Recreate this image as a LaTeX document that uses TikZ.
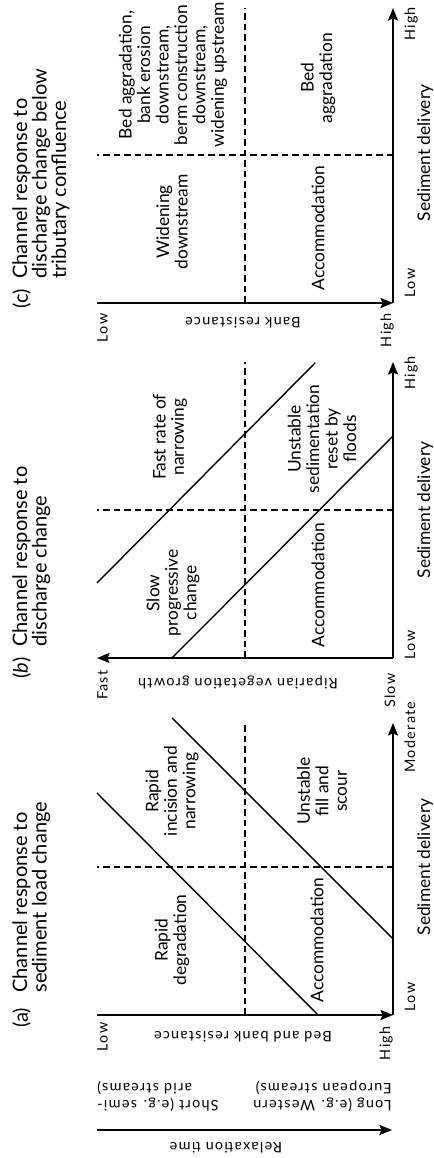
\documentclass[tikz,border=0pt]{standalone}
\usepackage{fontspec}
\setmainfont{Lato}
\newfontfamily\spacedfont[LetterSpace=9]{Lato}
\usetikzlibrary{arrows.meta}

\begin{document}
\begin{tikzpicture}[x=0.02cm, y=0.02cm, rotate=90, transform shape,
    every node/.style={inner sep=0pt},
    axis/.style={line width=1.1pt, -{Stealth[length=0.25cm, width=0.2cm, inset=0.04cm]}},
    bound/.style={line width=0.8pt},
    quadline/.style={line width=0.75pt, dash pattern=on 0.13cm off 0.08cm},
    region/.style={align=center, font=\fontsize{9.9}{10.5}\selectfont},
    heading/.style={align=left, anchor=north west, font=\fontsize{11.4}{11.1}\selectfont},
    endlabel/.style={font=\spacedfont\fontsize{8.2}{9.6}\selectfont},
    axislabel/.style={font=\fontsize{9.9}{10.5}\selectfont}
]
\path[use as bounding box, fill=white] (0,-433) rectangle (1158,0);
%% ============================================================
%% RELAXATION TIME: arrow on the far left
%% ============================================================
\coordinate (rt-top) at (28,-97);
\coordinate (rt-end) at (28,-392);
\draw[axis] (rt-top) -- (rt-end);
\node[endlabel, rotate=90] (rt-label) at (10,-226) {Relaxation time};
\node[endlabel, rotate=90, align=right, anchor=north east] (rt-short) at (46,-97) {Short (e.g. semi-\\arid streams)};
\node[endlabel, rotate=90, align=left, anchor=north west] (rt-long) at (46,-392) {Long (e.g. Western\\European streams)};
%% ============================================================
%% PANEL (a): sediment load change
%% ============================================================
\begin{scope}[shift={(143,-393)}]
\coordinate (a-o)   at (0,0);
\coordinate (a-top) at (0,296);
\coordinate (a-end) at (292,0);
\draw[axis] (a-top) -- (a-o);
\draw[axis] (a-o) -- (a-end);
\coordinate (a-ml) at (0,148);
\coordinate (a-mr) at (292,148);
\coordinate (a-mb) at (148,0);
\coordinate (a-mt) at (148,296);
\draw[quadline] (a-ml) -- (a-mr);
\draw[quadline] (a-mb) -- (a-mt);
\coordinate (a-d1s) at (1,76);
\coordinate (a-d1e) at (222,296);
\coordinate (a-d2s) at (77,1);
\coordinate (a-d2e) at (297,221);
\draw[bound] (a-d1s) -- (a-d1e);
\draw[bound] (a-d2s) -- (a-d2e);
\node[region] (a-rapid)    at (75,221)  {Rapid\\degradation};
\node[region] (a-acc)      at (75,76)   {Accommodation};
\node[region] (a-incision) at (224,221) {Rapid\\incision and\\narrowing};
\node[region] (a-unstable) at (224,71)  {Unstable\\fill and\\scour};
\node[endlabel, anchor=north east] (a-low)  at (-7,296) {Low};
\node[endlabel, anchor=base east]  (a-high) at (-11,3)  {High};
\node[endlabel, rotate=90] (a-ylabel) at (-22,150) {Bed and bank resistance};
\node[endlabel, anchor=base] (a-xlow)  at (18,-22)  {Low};
\node[endlabel, anchor=base] (a-xhigh) at (278,-22) {Moderate};
\node[axislabel, anchor=base] (a-xlabel) at (148,-37) {Sediment delivery};
\node[heading] (a-tag)   at (-13,381) {(a)};
\node[heading] (a-title) at (22,381)  {Channel response to\\sediment load change};
\end{scope}
%% ============================================================
%% PANEL (b): discharge change
%% ============================================================
\begin{scope}[shift={(500,-393)}]
\coordinate (b-o)   at (0,0);
\coordinate (b-top) at (0,296);
\coordinate (b-end) at (296,0);
\draw[axis] (b-o) -- (b-top);
\draw[axis] (b-o) -- (b-end);
\coordinate (b-ml) at (0,148);
\coordinate (b-mr) at (296,148);
\coordinate (b-mb) at (148,0);
\coordinate (b-mt) at (148,296);
\draw[quadline] (b-ml) -- (b-mr);
\draw[quadline] (b-mb) -- (b-mt);
\coordinate (b-d1s) at (75,296);
\coordinate (b-d1e) at (295,78);
\coordinate (b-d2s) at (0,221);
\coordinate (b-d2e) at (221,1);
\draw[bound] (b-d1s) -- (b-d1e);
\draw[bound] (b-d2s) -- (b-d2e);
\node[region] (b-slow)     at (65,220)  {Slow\\progressive\\change};
\node[region] (b-acc)      at (73,75)   {Accommodation};
\node[region] (b-fast)     at (221,223) {Fast rate of\\narrowing};
\node[region] (b-unstable) at (219,71)  {Unstable\\sedimentation\\reset by\\floods};
\node[endlabel, anchor=north east] (b-fastlbl) at (-12,296) {Fast};
\node[endlabel, anchor=base east]  (b-slowlbl) at (-15,-2)  {Slow};
\node[endlabel, rotate=90] (b-ylabel) at (-24,155) {Riparian vegetation growth};
\node[endlabel, anchor=base] (b-xlow)  at (13,-22)  {Low};
\node[endlabel, anchor=base] (b-xhigh) at (285,-22) {High};
\node[axislabel, anchor=base] (b-xlabel) at (148,-37) {Sediment delivery};
\node[heading] (b-tag)   at (-21,381) {(\textit{b})};
\node[heading] (b-title) at (11,381)  {Channel response to\\discharge change};
\end{scope}
%% ============================================================
%% PANEL (c): discharge change below tributary confluence
%% ============================================================
\begin{scope}[shift={(855,-393)}]
\coordinate (c-o)   at (0,0);
\coordinate (c-top) at (0,296);
\coordinate (c-end) at (295,0);
\draw[axis] (c-top) -- (c-o);
\draw[axis] (c-o) -- (c-end);
\coordinate (c-ml) at (0,148);
\coordinate (c-mr) at (295,148);
\coordinate (c-mb) at (148,0);
\coordinate (c-mt) at (148,296);
\draw[quadline] (c-ml) -- (c-mr);
\draw[quadline] (c-mb) -- (c-mt);
\node[region] (c-widen)  at (81,221)  {Widening\\downstream};
\node[region] (c-acc)    at (75,75)   {Accommodation};
\node[region] (c-mixed)  at (228,220) {Bed aggradation,\\bank erosion\\downstream,\\berm construction\\downstream,\\widening upstream};
\node[region] (c-aggr)   at (225,75)  {Bed\\aggradation};
\node[endlabel, anchor=north east] (c-low)  at (-10,296) {Low};
\node[endlabel, anchor=base east]  (c-high) at (-10,2)   {High};
\node[endlabel, rotate=90] (c-ylabel) at (-20,150) {Bank resistance};
\node[endlabel, anchor=base] (c-xlow)  at (20,-22)  {Low};
\node[endlabel, anchor=base] (c-xhigh) at (279,-22) {High};
\node[axislabel, anchor=base] (c-xlabel) at (150,-37) {Sediment delivery};
\node[heading] (c-tag)   at (-6,381) {(c)};
\node[heading] (c-title) at (24,381) {Channel response to\\discharge change below\\tributary confluence};
\end{scope}
\end{tikzpicture}
\end{document}
